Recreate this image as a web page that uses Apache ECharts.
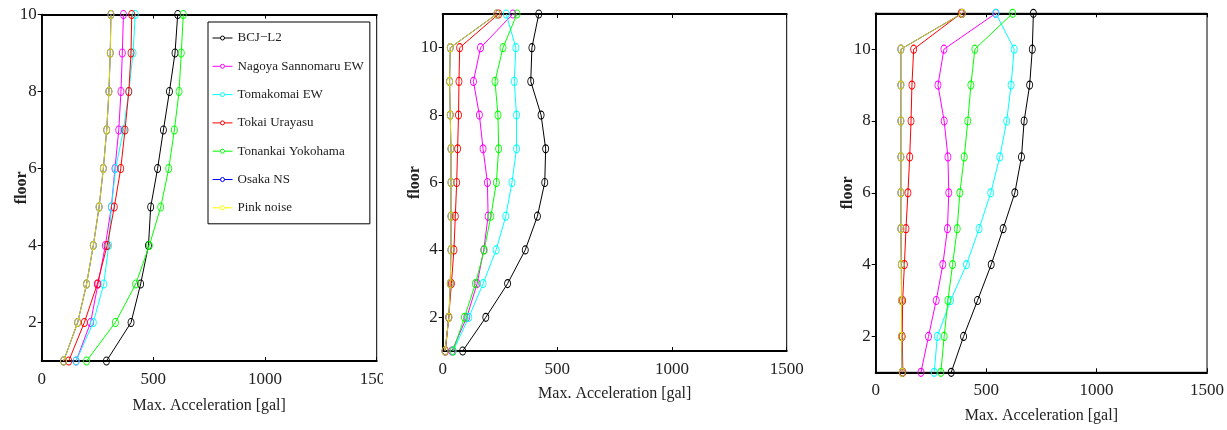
<!DOCTYPE html>
<html><head><meta charset="utf-8">
<script src="https://cdn.jsdelivr.net/npm/echarts@6/dist/echarts.min.js"></script>
<style>html,body{margin:0;padding:0;background:#fff}#c{width:1227px;height:430px}</style>
</head><body><div id="c"></div>
<script>
// ---- data ----
const seriesNames = ['BCJ\u2212L2', 'Nagoya Sannomaru EW', 'Tomakomai EW', 'Tokai Urayasu', 'Tonankai Yokohama', 'Osaka NS', 'Pink noise'];
const floorsA = [1, 2, 3, 4, 5, 6, 7, 8, 9, 10];
const floorsB = [1, 2, 3, 4, 5, 6, 7, 8, 9, 10, 11];
const xTickValues = [0, 500, 1000, 1500];
const yTickValues = [2, 4, 6, 8, 10];

// panel 1 (floors 1..10)
const p1Bcj      = [290, 400, 443, 478, 488, 519, 545, 572, 597, 609];
const p1Nagoya   = [154, 219, 252, 285, 312, 328, 345, 355, 361, 366];
const p1Tomakomai= [154, 231, 278, 300, 312, 331, 366, 390, 409, 419];
const p1Tokai    = [121, 191, 249, 293, 325, 354, 373, 390, 400, 403];
const p1Tonankai = [201, 330, 421, 482, 533, 569, 594, 615, 625, 634];
const p1Osaka    = [98, 161, 201, 231, 257, 276, 291, 301, 307, 310];
const p1Pink     = [98, 161, 201, 231, 257, 276, 291, 301, 307, 310];

// panel 2 (floors 1..11)
const p2Bcj      = [87, 188, 283, 360, 413, 445, 449, 429, 384, 389, 419];
const p2Nagoya   = [40, 105, 150, 179, 198, 195, 176, 160, 134, 165, 306];
const p2Tomakomai= [45, 114, 176, 233, 275, 302, 322, 322, 312, 319, 277];
const p2Tokai    = [12, 26, 38, 49, 55, 61, 65, 69, 71, 74, 244];
const p2Tonankai = [45, 95, 143, 181, 210, 234, 244, 241, 228, 263, 324];
const p2Osaka    = [10, 27, 33, 36, 36, 36, 36, 33, 30, 33, 236];
const p2Pink     = [10, 27, 33, 36, 36, 36, 36, 33, 30, 33, 236];

// panel 3 (floors 1..11)
const p3Bcj      = [342, 398, 461, 523, 577, 630, 660, 672, 697, 709, 714];
const p3Nagoya   = [205, 239, 274, 304, 325, 331, 327, 310, 282, 309, 544];
const p3Tomakomai= [265, 279, 339, 411, 468, 521, 562, 593, 613, 627, 544];
const p3Tokai    = [123, 120, 122, 130, 137, 146, 154, 160, 164, 172, 387];
const p3Tonankai = [295, 310, 327, 348, 369, 381, 401, 417, 431, 449, 620];
const p3Osaka    = [120, 117, 117, 116, 114, 114, 114, 114, 114, 114, 392];
const p3Pink     = [120, 117, 117, 116, 114, 114, 114, 114, 114, 114, 392];

// ---- styling / layout ----
const lineColors = ['#000000', '#ff00ff', '#00ffff', '#ff0000', '#00ff00', '#0000ff', '#e0dc00'];
const legendColors = ['#000000', '#ff00ff', '#00ffff', '#ff0000', '#00ff00', '#0000ff', '#ffff00'];
const FONT = 'Liberation Serif';
const panels = [
  { grid: { left: 41.7, top: 14.5, width: 335, height: 346.5 }, floors: floorsA, ymax: 10, xNameGap: 37, yNameGap: 12,
    values: [p1Bcj, p1Nagoya, p1Tomakomai, p1Tokai, p1Tonankai, p1Osaka, p1Pink] },
  { grid: { left: 442.7, top: 14, width: 344, height: 337 }, floors: floorsB, ymax: 11, xNameGap: 35, yNameGap: 20,
    values: [p2Bcj, p2Nagoya, p2Tomakomai, p2Tokai, p2Tonankai, p2Osaka, p2Pink] },
  { grid: { left: 875.7, top: 13.3, width: 332, height: 359 }, floors: floorsB, ymax: 11, xNameGap: 35, yNameGap: 20,
    values: [p3Bcj, p3Nagoya, p3Tomakomai, p3Tokai, p3Tonankai, p3Osaka, p3Pink] }
];

const grids = [], xAxes = [], yAxes = [], series = [];
panels.forEach((p, i) => {
  grids.push(Object.assign({ show: true, borderColor: '#000', borderWidth: 1, backgroundColor: 'transparent' }, p.grid));
  xAxes.push({
    type: 'value', gridIndex: i, min: 0, max: 1500, interval: 500, position: 'bottom',
    name: 'Max. Acceleration [gal]', nameLocation: 'middle', nameGap: p.xNameGap, nameMoveOverlap: false,
    nameTextStyle: { fontFamily: FONT, fontSize: 16, color: '#222' },
    axisLine: { show: true, lineStyle: { color: '#000', width: 2 } },
    axisTick: { show: true, inside: true, length: 4, lineStyle: { color: '#000' } },
    axisLabel: { fontFamily: FONT, fontSize: 17, color: '#222', margin: 10, formatter: v => String(v) },
    splitLine: { show: false }
  });
  yAxes.push({
    type: 'value', gridIndex: i, min: 1, max: p.ymax, position: 'left',
    name: 'floor', nameLocation: 'middle', nameGap: p.yNameGap, nameMoveOverlap: false,
    nameTextStyle: { fontFamily: FONT, fontSize: 16, fontWeight: 'bold', color: '#222' },
    axisLine: { show: true, lineStyle: { color: '#000', width: 1.5 } },
    axisTick: { show: true, inside: false, length: 3, customValues: yTickValues, lineStyle: { color: '#000' } },
    axisLabel: { fontFamily: FONT, fontSize: 17, color: '#222', margin: 5, customValues: yTickValues },
    splitLine: { show: false }
  });
});
panels.forEach((p, i) => {
  xAxes.push({
    type: 'value', gridIndex: i, min: 0, max: 1500, interval: 500, position: 'top',
    axisLine: { show: true, lineStyle: { color: '#000', width: 2 } },
    axisTick: { show: true, inside: true, length: 4, lineStyle: { color: '#000' } },
    axisLabel: { show: false }, splitLine: { show: false }
  });
  yAxes.push({
    type: 'value', gridIndex: i, min: 1, max: p.ymax, position: 'right',
    axisLine: { show: true, lineStyle: { color: '#000', width: 1.5 } },
    axisTick: { show: true, inside: true, length: 4, customValues: yTickValues, lineStyle: { color: '#000' } },
    axisLabel: { show: false, customValues: yTickValues }, splitLine: { show: false }
  });
});
panels.forEach((p, i) => {
  p.values.forEach((vals, k) => {
    series.push({
      type: 'line', name: seriesNames[k], xAxisIndex: i, yAxisIndex: i,
      data: vals.map((v, j) => [v, p.floors[j]]),
      symbol: 'circle', symbolSize: [6, 8],
      color: lineColors[k],
      lineStyle: { width: 1, color: lineColors[k] },
      itemStyle: { color: 'rgba(255,255,255,0)', borderColor: lineColors[k], borderWidth: 1 },
      emphasis: { disabled: true },
      z: 3 + k
    });
  });
});

const legendData = seriesNames.map((n, k) => ({
  name: n,
  itemStyle: { color: '#fff', borderColor: legendColors[k], borderWidth: 1 },
  lineStyle: { color: legendColors[k], width: 1 }
}));

const chart = echarts.init(document.getElementById('c'), null, { renderer: 'canvas' });
chart.setOption({
  animation: false,
  backgroundColor: '#fff',
  grid: grids, xAxis: xAxes, yAxis: yAxes, series: series,
  legend: {
    data: legendData, orient: 'vertical', left: 208, top: 22,
    padding: [9, 6, 9, 4], itemWidth: 20, itemHeight: 5, itemGap: 14.3,
    backgroundColor: '#fff', borderColor: '#000', borderWidth: 1,
    textStyle: { fontFamily: FONT, fontSize: 13, color: '#222', lineHeight: 14 }
  },
  graphic: [{ type: 'rect', left: 383, top: 364, shape: { width: 16, height: 30 }, style: { fill: '#fff' }, z: 100 }]
});
</script>
</body></html>
